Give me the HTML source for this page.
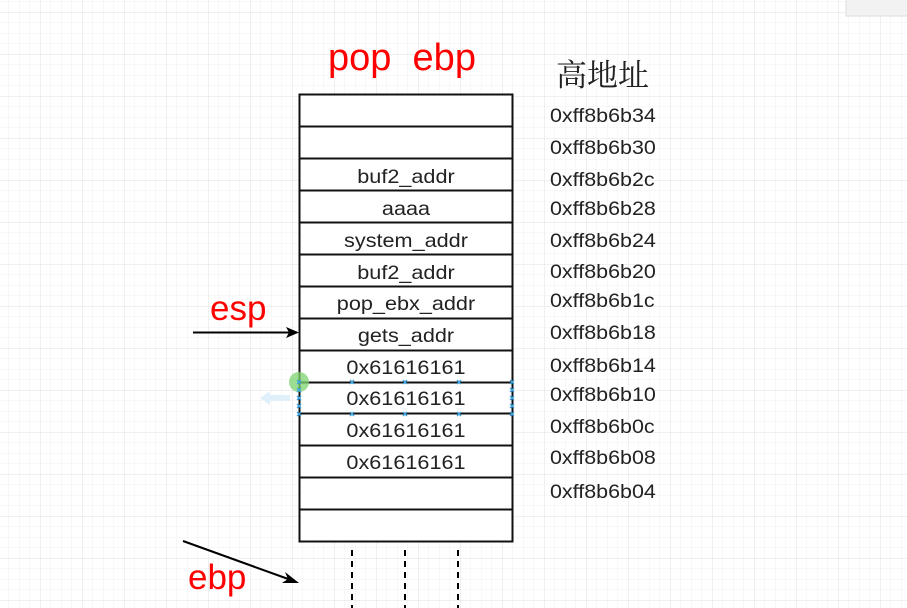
<!DOCTYPE html>
<html><head><meta charset="utf-8"><style>
html,body{margin:0;padding:0;background:#fff;}
svg{display:block;}
</style></head><body>
<svg width="907" height="608" xmlns="http://www.w3.org/2000/svg">
<defs>
<pattern id="minor" x="-2" y="1.5" width="10.5" height="10.5" patternUnits="userSpaceOnUse">
<path d="M0 0H10.5M0 0V10.5" stroke="#f0f0f0" stroke-width="1" fill="none"/>
</pattern>
<pattern id="major" x="-2" y="12" width="42" height="42" patternUnits="userSpaceOnUse">
<path d="M0 0H42M0 0V42" stroke="#e2e2e2" stroke-width="1" fill="none"/>
</pattern>
</defs>
<rect width="907" height="608" fill="#fff"/>
<rect width="907" height="608" fill="url(#minor)"/>
<rect width="907" height="608" fill="url(#major)"/>
<rect x="846" y="-2" width="64" height="18" fill="#f2f2f2" stroke="#ddd"/>

<g font-family="Liberation Sans, sans-serif">
<text x="402" y="70" font-size="38" fill="#ff0000" text-anchor="middle" xml:space="preserve">pop  ebp</text>
<text x="556" y="86" font-size="31" fill="#222" font-family="Noto Serif CJK SC, serif">高地址</text>

<g fill="#fff" stroke="#111" stroke-width="2">
<rect x="299.5" y="94.5" width="213" height="447"/>
</g>
<g stroke="#111" stroke-width="2">
<line x1="299" x2="513" y1="126.5" y2="126.5"/>
<line x1="299" x2="513" y1="158.5" y2="158.5"/>
<line x1="299" x2="513" y1="190.5" y2="190.5"/>
<line x1="299" x2="513" y1="222.5" y2="222.5"/>
<line x1="299" x2="513" y1="254.5" y2="254.5"/>
<line x1="299" x2="513" y1="286.5" y2="286.5"/>
<line x1="299" x2="513" y1="318.5" y2="318.5"/>
<line x1="299" x2="513" y1="350.5" y2="350.5"/>
<line x1="299" x2="513" y1="382.5" y2="382.5"/>
<line x1="299" x2="513" y1="413.5" y2="413.5"/>
<line x1="299" x2="513" y1="445.5" y2="445.5"/>
<line x1="299" x2="513" y1="477.5" y2="477.5"/>
<line x1="299" x2="513" y1="509.5" y2="509.5"/>
</g>
<g font-size="19.5" fill="#222" text-anchor="middle" transform="translate(406,0) scale(1.11,1) translate(-406,0)">
<text x="406" y="183">buf2_addr</text>
<text x="406" y="215">aaaa</text>
<text x="406" y="247">system_addr</text>
<text x="406" y="279">buf2_addr</text>
<text x="406" y="310">pop_ebx_addr</text>
<text x="406" y="342">gets_addr</text>
<text x="406" y="374">0x61616161</text>
<text x="406" y="405">0x61616161</text>
<text x="406" y="437">0x61616161</text>
<text x="406" y="469">0x61616161</text>
</g>
<g font-size="19" fill="#222" transform="translate(550,0) scale(1.13,1) translate(-550,0)">
<text x="550" y="122">0xff8b6b34</text>
<text x="550" y="154">0xff8b6b30</text>
<text x="550" y="186">0xff8b6b2c</text>
<text x="550" y="215">0xff8b6b28</text>
<text x="550" y="247">0xff8b6b24</text>
<text x="550" y="278">0xff8b6b20</text>
<text x="550" y="307">0xff8b6b1c</text>
<text x="550" y="339">0xff8b6b18</text>
<text x="550" y="372">0xff8b6b14</text>
<text x="550" y="401">0xff8b6b10</text>
<text x="550" y="433">0xff8b6b0c</text>
<text x="550" y="464">0xff8b6b08</text>
<text x="550" y="498">0xff8b6b04</text>
</g>

<text x="210" y="320" font-size="35" fill="#ff0000">esp</text>
<line x1="193" y1="332.5" x2="290" y2="332.5" stroke="#000" stroke-width="2"/>
<path d="M299 332.5 L286 327 L289 332.5 L286 338 Z" fill="#000"/>

<text x="188" y="589" font-size="35" fill="#ff0000">ebp</text>
<line x1="183" y1="541" x2="291" y2="580" stroke="#000" stroke-width="2"/>
<path d="M299 583 L285 572 L288 579 L282 583 Z" fill="#000"/>

<g stroke="#000" stroke-width="2" stroke-dasharray="6,5">
<line x1="352" y1="550" x2="352" y2="608"/>
<line x1="405" y1="550" x2="405" y2="608"/>
<line x1="458" y1="550" x2="458" y2="608"/>
</g>

<path d="M260 398 L270 391 L270 395 L290 395 L290 401 L270 401 L270 405 Z" fill="#dff0fb"/>
<circle cx="299" cy="382" r="10" fill="#7ed36f" opacity="0.75"/>
<g stroke="#3aa3e0" stroke-width="1.3">
<path d="M297 380l4 4M301 380l-4 4"/>
<path d="M350 380l4 4M354 380l-4 4"/>
<path d="M403 380l4 4M407 380l-4 4"/>
<path d="M457 380l4 4M461 380l-4 4"/>
<path d="M510 380l4 4M514 380l-4 4"/>
<path d="M297 412l4 4M301 412l-4 4"/>
<path d="M350 412l4 4M354 412l-4 4"/>
<path d="M403 412l4 4M407 412l-4 4"/>
<path d="M457 412l4 4M461 412l-4 4"/>
<path d="M510 412l4 4M514 412l-4 4"/>
<path d="M297 388l4 4M301 388l-4 4M297 396l4 4M301 396l-4 4M297 404l4 4M301 404l-4 4"/>
<path d="M510 388l4 4M514 388l-4 4M510 396l4 4M514 396l-4 4M510 404l4 4M514 404l-4 4"/>
</g>
</g>
</svg>
</body></html>
